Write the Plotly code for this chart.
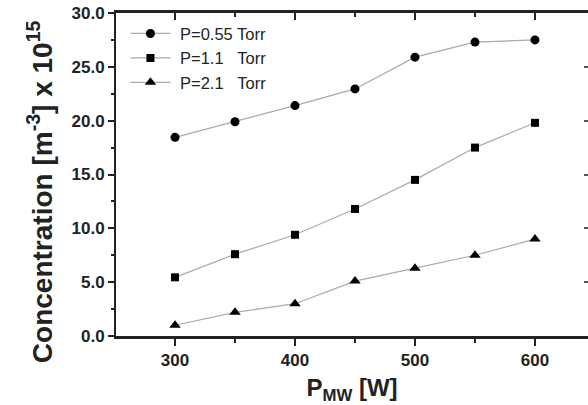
import plotly.graph_objects as go

power_w = [300, 350, 400, 450, 500, 550, 600]
conc_055 = [18.45, 19.9, 21.4, 22.95, 25.9, 27.3, 27.5]
conc_11 = [5.45, 7.6, 9.4, 11.8, 14.5, 17.5, 19.8]
conc_21 = [1.0, 2.2, 3.0, 5.1, 6.3, 7.5, 9.0]
series_names = ["P=0.55 Torr", "P=1.1\u00a0\u00a0\u00a0Torr", "P=2.1\u00a0\u00a0\u00a0Torr"]
x_ticks = [300, 400, 500, 600]
y_title = "Concentration [m<sup>-3</sup>] x 10<sup>15</sup>"
x_title = "P<sub>MW</sub> [W]"

fig = go.Figure()
line_style = dict(color="#aaaaaa", width=1.2)
for name, vals, sym, sz in [
    (series_names[0], conc_055, "circle", 9),
    (series_names[1], conc_11, "square", 8),
    (series_names[2], conc_21, "triangle-up", 10),
]:
    fig.add_trace(go.Scatter(
        x=power_w, y=vals, name="\u00a0" + name, mode="lines+markers",
        line=line_style,
        marker=dict(symbol=sym, size=sz, color="black"),
    ))

# invisible helper trace so the mirrored frame axes are drawn
fig.add_trace(go.Scatter(x=power_w, y=conc_055, xaxis="x2", yaxis="y2", mode="markers",
                         marker=dict(opacity=0), showlegend=False, hoverinfo="skip"))

xr = [250.8, 644.2]
font_fam = "Arial, Liberation Sans"
tickfont = dict(family=font_fam, size=17, color="#222", weight="bold")
fig.update_layout(
    width=588, height=405,
    margin=dict(l=116, r=0, t=13, b=69),
    plot_bgcolor="white", paper_bgcolor="white",
    showlegend=True,
    legend=dict(x=0.02, y=0.99, xanchor="left", yanchor="top",
                font=dict(family=font_fam, size=16.5, color="#222"),
                bgcolor="rgba(0,0,0,0)", tracegroupgap=0, itemwidth=40),
    xaxis=dict(range=xr, tickvals=x_ticks, ticks="outside", ticklen=7, tickwidth=1.5,
               tickcolor="#222", showline=True, linewidth=2.5, linecolor="#222",
               showgrid=False, zeroline=False, tickfont=tickfont, automargin=False,
               minor=dict(dtick=50, tick0=300, ticks="outside", ticklen=4, tickwidth=1.5, tickcolor="#222"),
               title=dict(text=x_title, standoff=12,
                          font=dict(family=font_fam, size=24, color="#222", weight="bold"))),
    xaxis2=dict(range=xr, overlaying="x", side="top", anchor="y2", tickvals=x_ticks, ticks="inside",
                ticklen=7, tickwidth=1.5, tickcolor="#222", showline=True, linewidth=2.5,
                linecolor="#222", showgrid=False, zeroline=False, showticklabels=False,
                automargin=False,
                minor=dict(dtick=50, tick0=300, ticks="inside", ticklen=4, tickwidth=1.5, tickcolor="#222")),
    yaxis=dict(range=[0, 30], dtick=5, tick0=0, tickformat=".1f", ticks="outside", ticklen=6,
               tickwidth=1.5, tickcolor="#222", showline=True, linewidth=2, linecolor="#222",
               showgrid=False, zeroline=False, tickfont=tickfont, automargin=False,
               minor=dict(dtick=2.5, ticks="outside", ticklen=3, tickwidth=1.5, tickcolor="#222")),
    yaxis2=dict(range=[0, 30], overlaying="y", side="right", anchor="x2", dtick=5, tick0=0,
                ticks="inside", ticklen=4, tickwidth=1.5, tickcolor="#555", showline=False,
                showgrid=False, zeroline=False, showticklabels=False, automargin=False),
    annotations=[dict(text=y_title, textangle=-90, xref="paper", yref="paper",
                      x=-0.162, y=0.447, xanchor="center", yanchor="middle", showarrow=False,
                      font=dict(family=font_fam, size=28, color="#222", weight="bold"))],
)
fig.write_html("out.html", config={"displayModeBar": False},
               post_script="document.body.style.margin='0';document.body.style.overflow='hidden';")
